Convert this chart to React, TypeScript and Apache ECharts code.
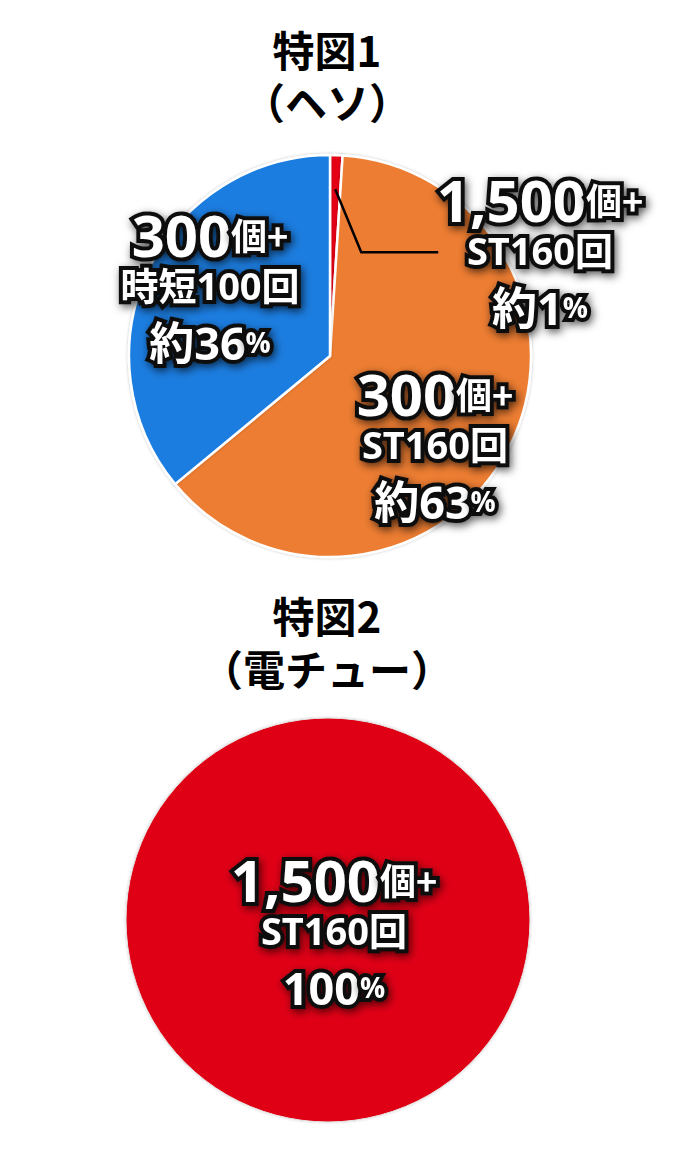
import { useEffect, useRef } from "react";
import * as echarts from "echarts";

// 特図1（ヘソ） — 振り分け
const heso_payout = ["1,500", "300", "300"];
const heso_route = ["ST160回", "ST160回", "時短100回"];
const heso_share = [1, 63, 36];
const heso_colors = ["#e60012", "#ed7d31", "#1b7de0"];

// 特図2（電チュー）
const denchu_payout = ["1,500"];
const denchu_route = ["ST160回"];
const denchu_share = [100];
const denchu_colors = ["#e00012"];

const titles = ["特図1\n（ヘソ）", "特図2\n（電チュー）"];

const FONT = "'Open Sans', 'Noto Sans CJK JP', sans-serif";
const CJK = "'Noto Sans CJK JP', sans-serif";

// pie geometry
const PIE1 = { cx: 330, cy: 356, r: 201 };
const PIE2 = { cx: 328, cy: 920, r: 202 };

// label centres (dataIndex -> [x, y])
const labelPos1: [number, number][] = [
  [540, 256],
  [435, 450],
  [210, 291],
];
const labelPos2: [number, number][] = [[334, 936]];

const outline = {
  color: "#fff",
  fontWeight: "bold" as const,
  fontFamily: FONT,
  textBorderColor: "#111",
  textBorderWidth: 8,
  textShadowColor: "rgba(0,0,0,0.65)",
  textShadowBlur: 8,
  textShadowOffsetX: 2,
  textShadowOffsetY: 3,
};

const rich = {
  a: { ...outline, fontSize: 58, lineHeight: 52 },
  b: { ...outline, fontSize: 36, lineHeight: 52, fontFamily: CJK },
  c: { ...outline, fontSize: 38, lineHeight: 50 },
  d: { ...outline, fontSize: 45, lineHeight: 64 },
  e: { ...outline, fontSize: 28, lineHeight: 64 },
};

const labelText = (payout: string, route: string, share: number, approx: boolean) =>
  `{a|${payout}}{b|個+}\n{c|${route}}\n{d|${approx ? "約" : ""}${share}}{e|%}`;

export default function App() {
  const ref = useRef<HTMLDivElement | null>(null);

  useEffect(() => {
    if (!ref.current) return;
    const chart = echarts.init(ref.current, undefined, { renderer: "svg" });

    // leader line for the small red slice
    const total = heso_share.reduce((s, v) => s + v, 0);
    const mid = ((heso_share[0] / 2) / total) * Math.PI * 2;
    const sx = PIE1.cx + Math.sin(mid) * PIE1.r * 0.83;
    const sy = PIE1.cy - Math.cos(mid) * PIE1.r * 0.83;
    const ex = sx + 26;
    const ey = sy + 63;

    const option = {
      animation: false,
      backgroundColor: "#fff",
      graphic: [
        {
          type: "text",
          x: 327,
          y: 74,
          style: {
            text: titles[0],
            fill: "#000",
            font: `bold 42px ${CJK}`,
            align: "center",
            verticalAlign: "middle",
            lineHeight: 52,
          },
        },
        {
          type: "text",
          x: 327,
          y: 641,
          style: {
            text: titles[1],
            fill: "#000",
            font: `bold 42px ${CJK}`,
            align: "center",
            verticalAlign: "middle",
            lineHeight: 53,
          },
        },
        {
          type: "polyline",
          z: 5,
          shape: { points: [[sx, sy], [ex, ey], [ex + 77, ey]] },
          style: { stroke: "#000", lineWidth: 2.5, fill: "none" },
        },
      ],
      series: [
        {
          type: "pie",
          center: [PIE1.cx, PIE1.cy],
          radius: [0, PIE1.r],
          startAngle: 90,
          clockwise: true,
          silent: true,
          itemStyle: {
            borderColor: "#fff",
            borderWidth: 2.5,
            shadowColor: "rgba(0,0,0,0.25)",
            shadowBlur: 3,
          },
          label: { show: true, position: "inside", rich },
          labelLine: { show: false },
          labelLayout: (p: any) => {
            const [x, y] = labelPos1[p.dataIndex];
            return { x, y };
          },
          data: heso_share.map((v, i) => ({
            value: v,
            name: heso_route[i],
            itemStyle: { color: heso_colors[i] },
            label: { formatter: labelText(heso_payout[i], heso_route[i], v, true) },
          })),
        },
        {
          type: "pie",
          center: [PIE2.cx, PIE2.cy],
          radius: [0, PIE2.r],
          startAngle: 90,
          silent: true,
          itemStyle: {
            borderColor: "#e4e4e4",
            borderWidth: 1,
            shadowColor: "rgba(0,0,0,0.2)",
            shadowBlur: 3,
          },
          label: { show: true, position: "inside", rich },
          labelLine: { show: false },
          labelLayout: (p: any) => {
            const [x, y] = labelPos2[p.dataIndex];
            return { x, y };
          },
          data: denchu_share.map((v, i) => ({
            value: v,
            name: denchu_route[i],
            itemStyle: { color: denchu_colors[i] },
            label: { formatter: labelText(denchu_payout[i], denchu_route[i], v, false) },
          })),
        },
      ],
    };

    chart.setOption(option);
    return () => chart.dispose();
  }, []);

  return (
    <div
      ref={ref}
      style={{ position: "fixed", left: 0, top: 0, width: 675, height: 1149 }}
    />
  );
}
